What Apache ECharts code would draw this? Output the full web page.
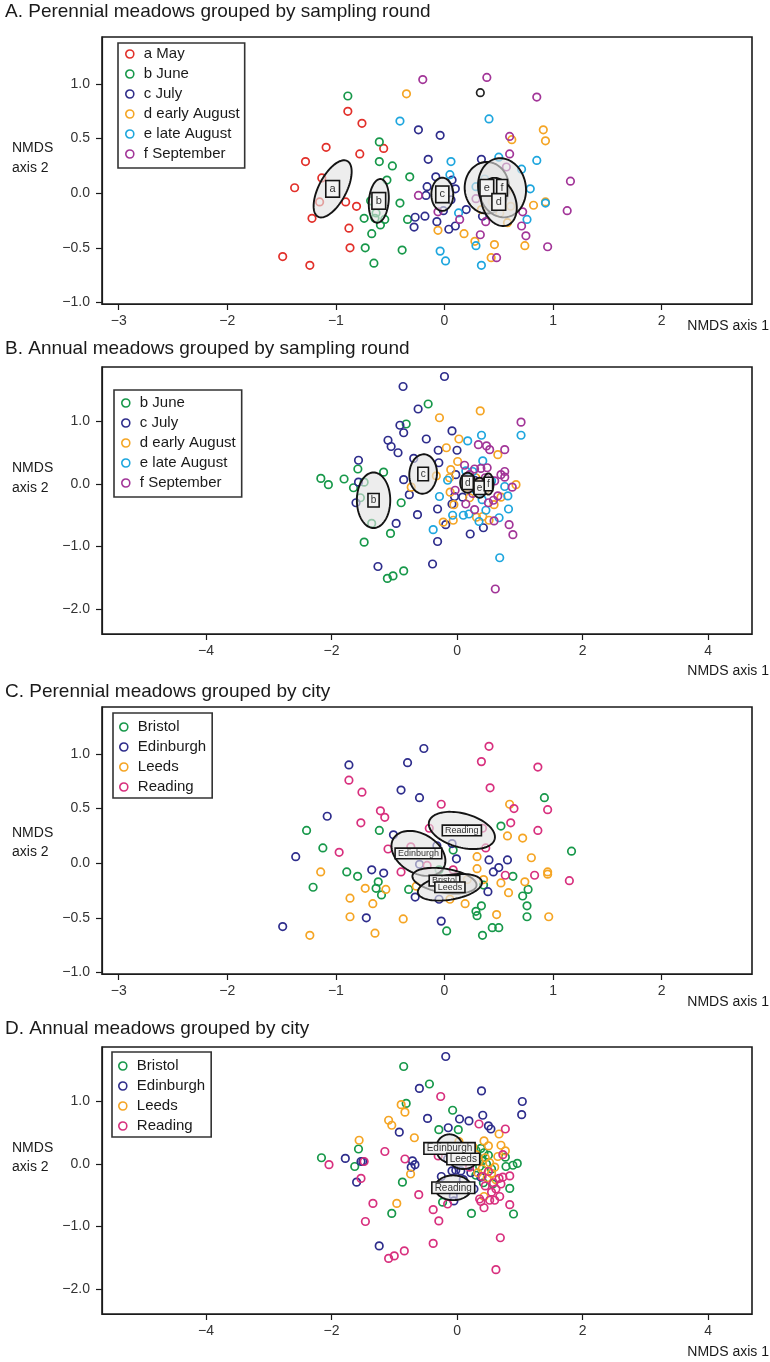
<!DOCTYPE html>
<html><head><meta charset="utf-8">
<script src="https://cdn.jsdelivr.net/npm/echarts@6/dist/echarts.min.js"></script>
<style>html,body{margin:0;padding:0;background:#fff}#chart{width:770px;height:1362px}</style>
</head><body><div id="chart"></div>
<script>
// ---------------- DATA ----------------
// Panel titles
const panelTitles = ['A. Perennial meadows grouped by sampling round','B. Annual meadows grouped by sampling round','C. Perennial meadows grouped by city','D. Annual meadows grouped by city'];
// Tick values
const xTicksPerennial = [-3,-2,-1,0,1,2];
const yTicksPerennial = [-1,-0.5,0,0.5,1];
const xTicksAnnual = [-4,-2,0,2,4];
const yTicksAnnual = [-2,-1,0,1];
// Legend categories
const roundNamesA = ['a May','b June','c July','d early August','e late August','f September'];
const roundNamesB = ['b June','c July','d early August','e late August','f September'];
const cityNames = ['Bristol','Edinburgh','Leeds','Reading'];

// A. Perennial meadows by sampling round (NMDS1, NMDS2)
const perMay = [[-0.89,0.75],[-0.76,0.64],[-1.09,0.42],[-0.78,0.36],[-0.56,0.41],[-1.28,0.29],[-1.38,0.05],[-1.13,0.14],[-1.15,-0.08],[-0.91,-0.08],[-0.81,-0.12],[-1.22,-0.23],[-0.88,-0.32],[-0.87,-0.50],[-1.49,-0.58],[-1.24,-0.66]];
const perJune = [[-0.89,0.89],[-0.60,0.47],[-0.60,0.29],[-0.48,0.25],[-0.53,0.12],[-0.32,0.15],[-0.68,-0.07],[-0.41,-0.09],[-0.63,-0.18],[-0.74,-0.23],[-0.64,-0.23],[-0.55,-0.24],[-0.59,-0.29],[-0.34,-0.24],[-0.67,-0.37],[-0.73,-0.50],[-0.39,-0.52],[-0.65,-0.64]];
const perJuly = [[-0.24,0.58],[-0.04,0.53],[-0.15,0.31],[-0.08,0.15],[-0.16,0.06],[0.07,0.12],[0.10,0.04],[-0.17,-0.02],[0.06,-0.06],[-0.01,-0.16],[0.20,-0.15],[-0.27,-0.22],[-0.18,-0.21],[-0.07,-0.26],[-0.28,-0.31],[0.10,-0.30],[0.04,-0.33],[0.34,0.31],[0.35,-0.21]];
const perEarlyAug = [[-0.35,0.91],[0.62,0.49],[0.91,0.58],[0.93,0.48],[0.82,-0.11],[0.93,-0.08],[0.58,-0.27],[0.44,-0.08],[0.61,-0.12],[0.51,-0.18],[0.34,-0.15],[0.58,0.03],[-0.06,-0.34],[0.18,-0.37],[0.28,-0.44],[0.46,-0.47],[0.74,-0.48],[0.43,-0.59]];
const perLateAug = [[-0.41,0.66],[0.41,0.68],[0.06,0.29],[0.05,0.17],[0.50,0.33],[0.71,0.22],[0.85,0.30],[0.79,0.04],[0.93,-0.09],[0.76,-0.24],[0.13,-0.18],[0.29,0.06],[0.37,0.13],[-0.04,-0.53],[0.01,-0.62],[0.29,-0.48],[0.34,-0.66]];
const perSep = [[-0.20,1.04],[0.39,1.06],[0.85,0.88],[0.60,0.52],[0.60,0.36],[0.57,0.24],[1.16,0.11],[1.13,-0.16],[-0.24,-0.02],[-0.06,-0.17],[0.14,-0.24],[0.29,-0.05],[0.38,-0.26],[0.33,-0.38],[0.72,-0.17],[0.71,-0.30],[0.75,-0.39],[0.95,-0.49],[0.48,-0.59]];
const perOther = [[0.33,0.92]];
// A ellipses: [label, centreX, centreY, semi-axis dx, semi-axis dy, minor/major ratio]
const perRoundEllipses = [['a',-1.03,0.04,0.134,0.255,0.44],['b',-0.605,-0.07,0.018,0.20,0.45],['c',-0.02,-0.01,0,0.152,0.66],['e',0.39,0.05,0,0.236,0.86],['f',0.53,0.05,-0.048,0.268,0.80],['d',0.50,-0.08,-0.078,0.214,0.68]];

// B. Annual meadows by sampling round
const annJune = [[-2.17,0.09],[-2.05,-0.01],[-1.80,0.08],[-1.58,0.24],[-1.65,-0.06],[-1.48,0.03],[-1.54,-0.22],[-1.36,-0.63],[-1.17,0.19],[-0.89,-0.30],[-1.06,-0.79],[-1.48,-0.93],[-0.85,-1.39],[-1.02,-1.47],[-1.11,-1.51],[-0.46,1.28],[-0.81,0.96]];
const annJuly = [[-0.20,1.72],[-0.86,1.56],[-0.62,1.20],[-0.91,0.94],[-0.85,0.82],[-0.08,0.85],[-0.49,0.72],[-1.10,0.70],[-1.05,0.60],[-0.94,0.50],[-0.30,0.54],[0.00,0.54],[-0.69,0.41],[-0.29,0.34],[-1.57,0.38],[-1.57,0.03],[-1.61,-0.30],[-0.85,0.07],[-0.76,-0.17],[-0.63,-0.49],[-0.97,-0.63],[-0.31,-0.40],[-0.31,-0.92],[-0.39,-1.28],[-1.26,-1.32],[0.21,-0.80],[0.42,-0.70],[-0.18,-0.65],[-0.04,-0.20],[-0.08,-0.32],[-0.02,0.15],[0.09,-0.21],[0.28,0.06]];
const annEarlyAug = [[0.37,1.17],[-0.28,1.06],[0.03,0.72],[-0.17,0.58],[0.65,0.47],[0.01,0.36],[-0.10,0.23],[-0.33,0.13],[-0.73,-0.05],[-0.11,-0.13],[-0.05,-0.33],[-0.06,-0.58],[-0.22,-0.61],[0.31,-0.53],[0.41,-0.52],[0.51,-0.58],[0.70,-0.21],[0.94,-0.01],[-0.12,0.10],[0.20,-0.22],[0.59,-0.33],[0.30,0.10],[0.45,-0.10],[0.15,-0.05]];
const annLateAug = [[1.02,0.78],[0.39,0.78],[0.17,0.69],[0.41,0.37],[-0.15,0.06],[-0.28,-0.20],[-0.07,-0.50],[0.10,-0.50],[0.19,-0.48],[0.35,-0.60],[-0.38,-0.73],[0.68,-1.18],[0.81,-0.19],[0.82,-0.40],[0.67,-0.54],[0.76,-0.04],[0.46,-0.42],[0.40,-0.25],[0.25,0.20],[0.55,0.05],[0.30,-0.10],[0.14,0.21]];
const annSep = [[1.02,0.99],[0.34,0.63],[0.47,0.61],[0.52,0.55],[0.76,0.55],[0.12,0.30],[0.28,0.24],[0.38,0.25],[0.48,0.26],[0.76,0.20],[0.70,0.15],[0.76,0.11],[0.88,-0.05],[-0.03,-0.10],[0.14,-0.32],[0.28,-0.41],[0.59,-0.59],[0.83,-0.65],[0.89,-0.81],[0.61,-1.68],[0.58,-0.26],[0.65,-0.19],[0.45,0.10],[0.60,0.05],[0.25,-0.15],[0.50,-0.30],[0.20,0.15],[0.40,0.00]];
const annRoundEllipses = [['b',-1.33,-0.26,0,0.445,0.60],['c',-0.54,0.16,0.02,0.315,0.70],['d',0.17,0.02,0,0.16,0.75],['e',0.36,-0.06,0,0.16,0.67],['f',0.50,0.0,0,0.17,0.48]];

// C. Perennial meadows by city
const perBristol = [[-1.27,0.30],[-1.12,0.14],[-1.21,-0.22],[-0.90,-0.08],[-0.80,-0.12],[-0.61,-0.17],[-0.63,-0.23],[-0.58,-0.29],[-0.60,0.30],[-0.33,-0.24],[0.08,0.12],[0.52,0.34],[0.92,0.60],[1.17,0.11],[0.63,-0.12],[0.36,-0.20],[0.77,-0.24],[0.72,-0.30],[0.76,-0.39],[0.76,-0.49],[0.34,-0.39],[0.29,-0.44],[0.30,-0.48],[0.44,-0.59],[0.50,-0.59],[0.02,-0.62],[0.35,-0.66],[-0.05,-0.06]];
const perEdinburgh = [[-0.19,1.05],[-0.88,0.90],[-0.34,0.92],[-0.40,0.67],[-0.23,0.60],[-1.08,0.43],[-0.47,0.26],[-1.37,0.06],[-1.49,-0.58],[-0.67,-0.06],[-0.56,-0.09],[-0.72,-0.50],[-0.03,-0.53],[-0.27,-0.31],[-0.05,-0.33],[-0.23,-0.01],[-0.07,0.16],[0.07,0.18],[0.11,0.04],[0.41,0.03],[0.58,0.03],[0.45,-0.08],[0.50,-0.04],[0.40,-0.26]];
const perLeeds = [[-1.14,-0.08],[-0.87,-0.32],[-0.87,-0.49],[-1.24,-0.66],[-0.73,-0.23],[-0.54,-0.24],[-0.66,-0.37],[-0.64,-0.64],[-0.38,-0.51],[0.19,-0.37],[0.05,-0.33],[0.48,-0.47],[0.30,0.06],[0.30,-0.05],[0.36,-0.15],[0.52,-0.18],[0.59,-0.27],[0.74,-0.17],[0.80,0.05],[0.72,0.23],[0.58,0.25],[0.60,0.54],[0.95,-0.08],[0.95,-0.10],[0.96,-0.49],[0.21,-0.15],[-0.26,-0.21]];
const perReading = [[0.41,1.07],[0.34,0.93],[0.86,0.88],[-0.88,0.76],[-0.76,0.65],[0.42,0.69],[-0.03,0.54],[-0.59,0.48],[-0.55,0.42],[-0.77,0.37],[0.64,0.50],[0.95,0.49],[0.61,0.37],[0.86,0.30],[0.35,0.32],[-0.14,0.32],[-0.97,0.10],[-0.52,0.13],[-0.31,0.15],[-0.16,-0.02],[-0.40,-0.08],[0.38,0.14],[0.08,-0.06],[0.56,-0.11],[0.83,-0.11],[1.15,-0.16]];
const perCityEllipses = [['Reading',0.16,0.30,0.302,-0.081,0.50],['Edinburgh',-0.24,0.09,0.231,-0.134,0.68],['Bristol',0.0,-0.16,0.295,-0.046,0.37],['Leeds',0.05,-0.22,0.295,0.05,0.38]];

// D. Annual meadows by city
const annBristol = [[-0.85,1.56],[-0.44,1.28],[-0.81,0.97],[-0.07,0.86],[-0.29,0.55],[0.02,0.55],[-1.57,0.24],[-2.16,0.10],[-1.63,-0.04],[-0.87,-0.29],[-1.04,-0.79],[0.23,-0.79],[0.90,-0.80],[0.84,-0.39],[0.96,0.01],[0.89,-0.02],[0.78,-0.04],[0.77,0.11],[0.57,-0.32],[-0.23,-0.61],[0.30,0.22],[0.38,0.25],[0.43,0.18],[0.50,0.14],[0.33,0.08],[0.40,0.05],[0.47,0.00],[0.36,-0.04],[0.55,-0.08],[0.30,-0.18],[0.42,-0.30]];
const annEdinburgh = [[-0.18,1.72],[-0.60,1.21],[0.39,1.17],[1.04,1.00],[1.03,0.79],[-0.47,0.73],[0.04,0.72],[0.19,0.69],[0.41,0.78],[0.50,0.61],[0.54,0.56],[-0.14,0.58],[-0.92,0.51],[-1.78,0.09],[-1.53,0.04],[-1.50,0.04],[-1.60,-0.29],[-0.71,0.05],[-0.67,-0.01],[-0.73,-0.05],[-1.24,-1.31],[-0.25,-0.20],[-0.08,-0.11],[-0.02,-0.10],[0.06,-0.11],[0.22,-0.14],[-0.06,-0.51],[-0.05,-0.59],[0.27,-0.40],[-0.15,0.08],[0.38,-0.21],[0.10,-0.25]];
const annLeeds = [[-1.09,0.70],[-1.04,0.62],[-0.89,0.95],[-0.83,0.83],[-1.56,0.38],[-0.68,0.42],[-0.74,-0.16],[-0.96,-0.63],[0.67,0.48],[0.77,0.21],[0.43,0.37],[0.50,0.29],[0.43,-0.52],[0.03,0.36],[0.30,0.15],[0.35,0.05],[0.45,0.10],[0.52,0.02],[0.60,-0.05],[0.40,-0.08],[0.55,-0.15],[0.65,0.12],[0.48,-0.22],[0.62,-0.25],[0.33,-0.14],[0.70,0.30],[0.25,0.28]];
const annReading = [[-0.26,1.08],[0.35,0.64],[0.77,0.56],[-1.15,0.20],[-0.83,0.08],[-2.04,-0.01],[-1.48,0.04],[-1.53,-0.23],[-0.61,-0.49],[-1.34,-0.63],[-1.46,-0.92],[-0.38,-0.73],[-0.29,-0.91],[-0.38,-1.27],[-0.84,-1.39],[-1.00,-1.47],[-1.09,-1.51],[0.69,-1.18],[0.62,-1.69],[0.84,-0.65],[0.43,-0.70],[0.36,-0.56],[0.38,-0.60],[0.52,-0.58],[0.60,-0.58],[0.68,-0.52],[-0.15,-0.64],[0.84,-0.19],[0.73,-0.21],[0.67,-0.23],[0.73,0.15],[-0.30,0.13],[0.50,-0.12],[0.58,-0.30],[0.45,-0.35],[0.40,-0.20],[0.62,-0.40],[0.55,-0.45],[0.70,-0.32],[0.20,-0.05]];
const annCityEllipses = [['Edinburgh',-0.12,0.25,0,0.225,0.95],['Leeds',0.10,0.08,0.222,0,0.72],['Reading',-0.06,-0.38,0.29,0,0.68]];

// ---------------- STYLE / LAYOUT ----------------
const FONT = '"Liberation Sans", Arial, Helvetica, sans-serif';
const COL = {
  'a May':'#e2302a','b June':'#17984a','c July':'#2e2d8c','d early August':'#f5a524',
  'e late August':'#1ea6de','f September':'#a23598','other':'#222222',
  'Bristol':'#17984a','Edinburgh':'#2e2d8c','Leeds':'#f5a524','Reading':'#d8307e'
};
const GRID_LEFT = 102, GRID_W = 650, GRID_H = 267;
const panels = [
  {top:37,  xr:[-3.154,2.832], yr:[-1.014,1.43], xt:xTicksPerennial, yt:yTicksPerennial},
  {top:367, xr:[-5.657,4.70],  yr:[-2.40,1.872], xt:xTicksAnnual,    yt:yTicksAnnual},
  {top:707, xr:[-3.154,2.832], yr:[-1.014,1.43], xt:xTicksPerennial, yt:yTicksPerennial},
  {top:1047,xr:[-5.657,4.70],  yr:[-2.40,1.872], xt:xTicksAnnual,    yt:yTicksAnnual}
];
const minus = s => s.replace('-', '\u2212');
const fmtX = v => minus(String(Math.round(v)));
const fmtY = v => minus(Number(v).toFixed(1));

const grids = [], xAxes = [], yAxes = [];
panels.forEach((p, i) => {
  grids.push({left:GRID_LEFT, top:p.top, width:GRID_W, height:GRID_H, show:true, borderColor:'#1a1a1a', borderWidth:1.6, backgroundColor:'transparent'});
  xAxes.push({type:'value', gridIndex:i, min:p.xr[0], max:p.xr[1], splitLine:{show:false},
    axisLine:{show:true, onZero:false, lineStyle:{color:'#1a1a1a', width:1.2}},
    axisTick:{show:true, length:6, customValues:p.xt, lineStyle:{color:'#1a1a1a', width:1.2}},
    axisLabel:{customValues:p.xt, formatter:fmtX, fontSize:14, color:'#333', margin:10, fontFamily:FONT}});
  yAxes.push({type:'value', gridIndex:i, min:p.yr[0], max:p.yr[1], splitLine:{show:false},
    axisLine:{show:true, onZero:false, lineStyle:{color:'#1a1a1a', width:1.2}},
    axisTick:{show:true, length:6, customValues:p.yt, lineStyle:{color:'#1a1a1a', width:1.2}},
    axisLabel:{customValues:p.yt, formatter:fmtY, fontSize:14, color:'#333', margin:12, fontFamily:FONT}});
});

const series = [];
function addScatter(name, data, gi, colorKey) {
  series.push({type:'scatter', name:name, data:data, xAxisIndex:gi, yAxisIndex:gi,
    symbol:'circle', symbolSize:7.5, silent:true, z:2,
    itemStyle:{color:'rgba(255,255,255,0)', borderColor:COL[colorKey||name], borderWidth:1.7, opacity:1}});
}
function addEllipses(list, gi, labelFont, labelPad) {
  series.push({type:'custom', xAxisIndex:gi, yAxisIndex:gi, z:3, silent:true, clip:true,
    encode:{x:0, y:1},
    data:list.map(e => e.slice(1)),
    renderItem:(params, api) => {
      const c = api.coord([api.value(0), api.value(1)]);
      const sx = api.size([1, 0])[0], sy = api.size([0, 1])[1];
      const Ux = api.value(2) * sx, Uy = -api.value(3) * sy, r = api.value(4);
      const Vx = -Uy * r, Vy = Ux * r;
      const pts = [];
      for (let k = 0; k < 90; k++) {
        const t = k / 90 * Math.PI * 2;
        pts.push([c[0] + Ux * Math.cos(t) + Vx * Math.sin(t), c[1] + Uy * Math.cos(t) + Vy * Math.sin(t)]);
      }
      return {type:'polygon', shape:{points:pts}, style:{fill:'rgba(226,226,226,0.62)', stroke:'#141414', lineWidth:1.9}};
    }});
  series.push({type:'custom', xAxisIndex:gi, yAxisIndex:gi, z:4, silent:true, clip:true,
    encode:{x:0, y:1},
    data:list.map(e => e.slice(1, 3)),
    renderItem:(params, api) => {
      const c = api.coord([api.value(0), api.value(1)]);
      return {type:'text', x:c[0], y:c[1], style:{text:list[params.dataIndex][0], font:labelFont, fill:'#333',
        align:'center', verticalAlign:'middle', backgroundColor:'#f3f3f3', borderColor:'#141414', borderWidth:1.6, padding:labelPad}};
    }});
}

// Panel A
addScatter('a May', perMay, 0); addScatter('b June', perJune, 0); addScatter('c July', perJuly, 0);
addScatter('d early August', perEarlyAug, 0); addScatter('e late August', perLateAug, 0); addScatter('f September', perSep, 0);
addScatter('unassigned', perOther, 0, 'other');
addEllipses(perRoundEllipses, 0, '11px ' + FONT, [2, 3]);
// Panel B
addScatter('b June', annJune, 1); addScatter('c July', annJuly, 1); addScatter('d early August', annEarlyAug, 1);
addScatter('e late August', annLateAug, 1); addScatter('f September', annSep, 1);
addEllipses(annRoundEllipses, 1, '10px ' + FONT, [1, 2]);
// Panel C
addScatter('Bristol', perBristol, 2); addScatter('Edinburgh', perEdinburgh, 2); addScatter('Leeds', perLeeds, 2); addScatter('Reading', perReading, 2);
addEllipses(perCityEllipses, 2, '9px ' + FONT, [0, 2]);
// Panel D
addScatter('Bristol', annBristol, 3); addScatter('Edinburgh', annEdinburgh, 3); addScatter('Leeds', annLeeds, 3); addScatter('Reading', annReading, 3);
addEllipses(annCityEllipses, 3, '10px ' + FONT, [0, 2]);

function legendFor(names, left, top, padding) {
  return {show:true, orient:'vertical', left:left, top:top, padding:padding, itemGap:4, itemWidth:8, itemHeight:8,
    borderColor:'#333', borderWidth:1.6, backgroundColor:'#fff', selectedMode:false, icon:'circle',
    textStyle:{fontSize:15, lineHeight:16, color:'#1a1a1a', fontFamily:FONT, padding:[0,0,0,5]},
    data:names.map(n => ({name:n, icon:'circle', itemStyle:{color:'rgba(255,255,255,0)', borderColor:COL[n], borderWidth:1.6, opacity:1}}))};
}
const legends = [
  legendFor(roundNamesA, 118, 43, [3, 5, 6, 7]),
  legendFor(roundNamesB, 114, 390, [5, 6, 6, 7]),
  legendFor(cityNames, 113, 713, [6, 6, 3, 6]),
  legendFor(cityNames, 112, 1052, [6, 6, 3, 6])
];

const txt = (x, y, text, font, align) => ({type:'text', x:x, y:y, silent:true,
  style:{text:text, font:font, fill:'#1a1a1a', align:align || 'left', verticalAlign:'middle'}});
const titleY = [12, 349, 692, 1029];
const axis1Y = [326, 671, 1002, 1352];
const axis2Y = [[148, 168], [468, 488], [833, 852], [1148, 1167]];
const graphic = [];
panelTitles.forEach((t, i) => graphic.push(txt(5, titleY[i], t, '19px ' + FONT)));
axis1Y.forEach(y => graphic.push(txt(769, y, 'NMDS axis 1', '14px ' + FONT, 'right')));
axis2Y.forEach(ys => { graphic.push(txt(12, ys[0], 'NMDS', '14px ' + FONT)); graphic.push(txt(12, ys[1], 'axis 2', '14px ' + FONT)); });

const chart = echarts.init(document.getElementById('chart'), null, {renderer:'canvas'});
chart.setOption({animation:false, backgroundColor:'#fff', grid:grids, xAxis:xAxes, yAxis:yAxes,
  legend:legends, series:series, graphic:graphic, tooltip:{show:false}});
</script></body></html>
